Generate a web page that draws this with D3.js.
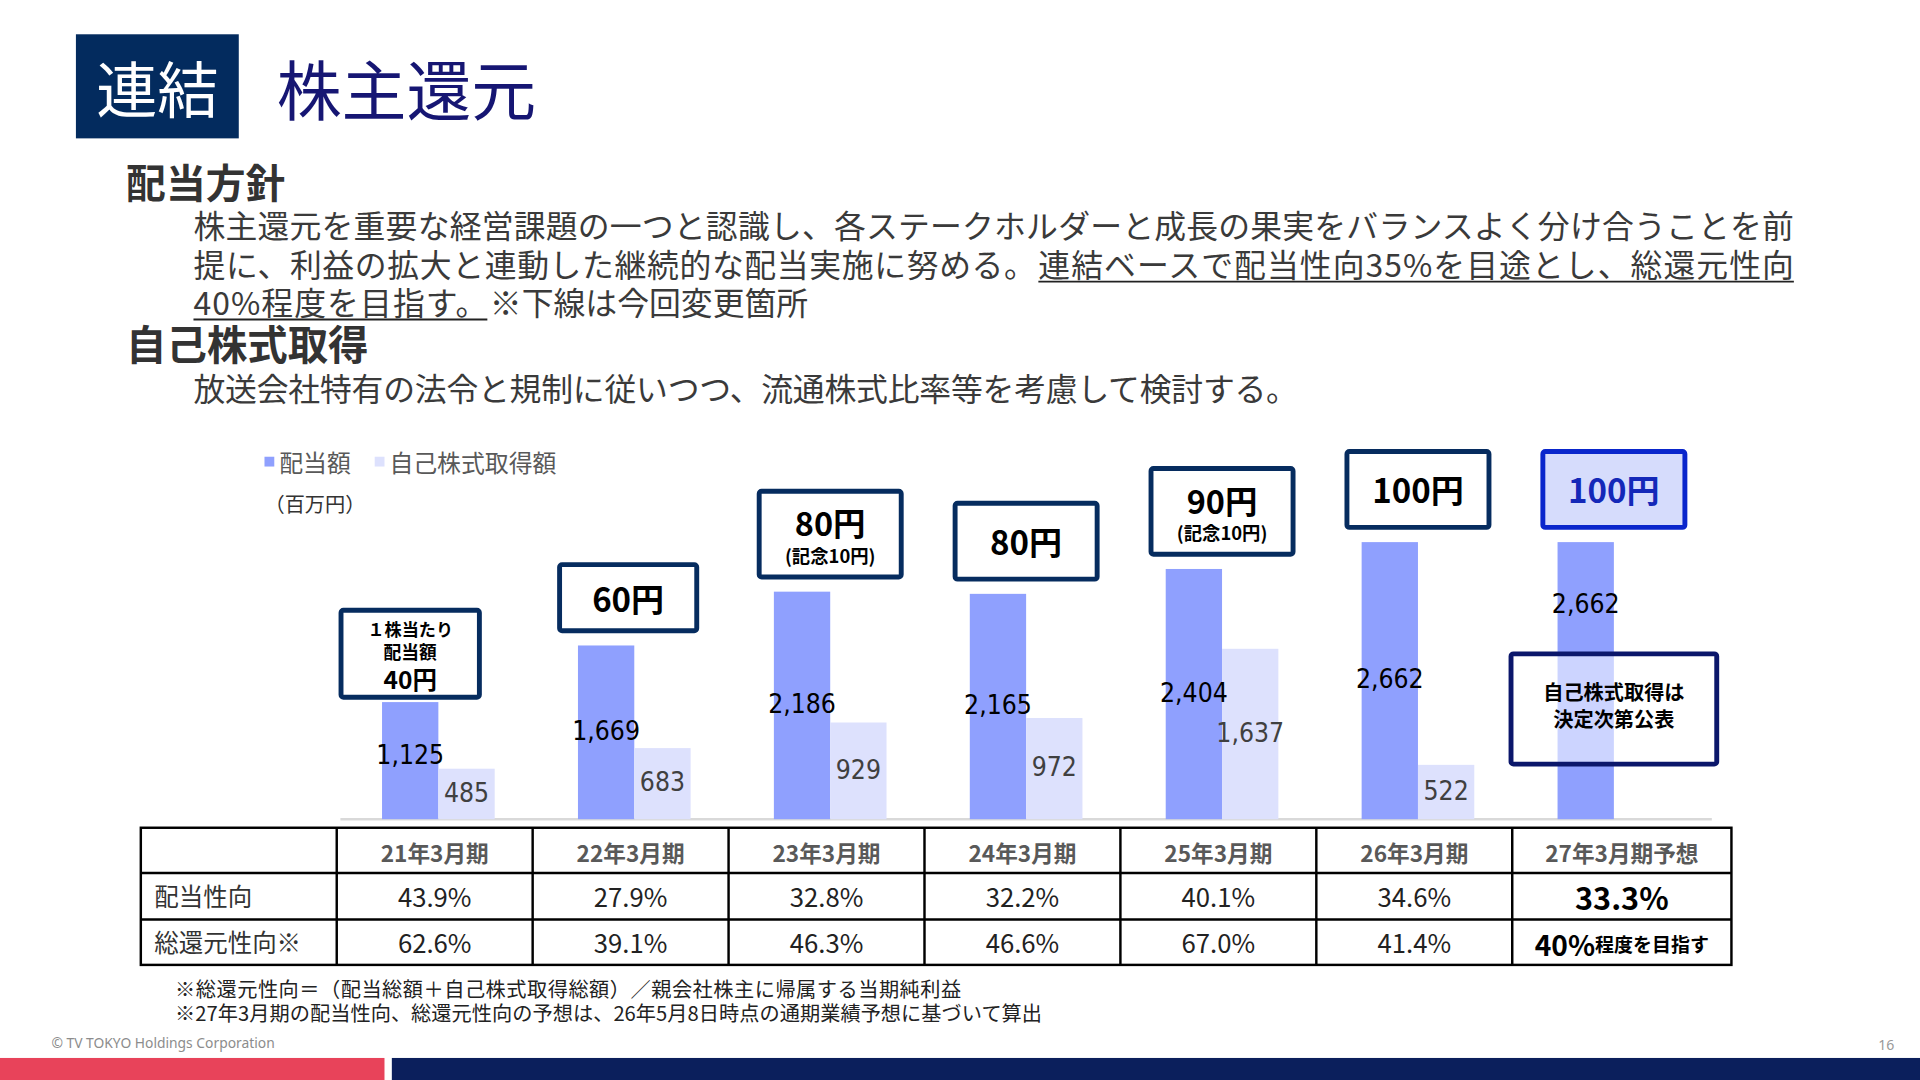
<!DOCTYPE html>
<html lang="ja">
<head>
<meta charset="utf-8">
<title>株主還元</title>
<script src="https://cdn.jsdelivr.net/npm/d3@7"></script>
<style>
  html, body { margin: 0; padding: 0; background: #fff; overflow: hidden; }
  svg { display: block; }
</style>
</head>
<body>
<div id="slide"></div>
<script>
// chart data
const periods = ["21年3月期", "22年3月期", "23年3月期", "24年3月期", "25年3月期", "26年3月期", "27年3月期予想"];
const dividendTotal = [1125, 1669, 2186, 2165, 2404, 2662, 2662];   // 配当額 (百万円)
const buybackTotal = [485, 683, 929, 972, 1637, 522, null];          // 自己株式取得額 (百万円)
const dpsMain = ["40円", "60円", "80円", "80円", "90円", "100円", "100円"];
const dpsNote = ["", "", "(記念10円)", "", "(記念10円)", "", ""];
const payoutRatio = ["43.9%", "27.9%", "32.8%", "32.2%", "40.1%", "34.6%", "33.3%"];
const totalReturnRatio = ["62.6%", "39.1%", "46.3%", "46.6%", "67.0%", "41.4%", "40%"];
const seriesNames = ["配当額", "自己株式取得額"];

const W = 1568, H = 882;
const JP = "'Noto Sans CJK JP', sans-serif";
const NARROW = "'Liberation Sans Narrow', 'DejaVu Sans Condensed', 'Noto Sans CJK JP', sans-serif";
const DIV_COLOR = "#8FA0FE";
const BUY_COLOR = "#DDE1FD";
const NAVY = "#062C5F";

const svg = d3.select("#slide").append("svg")
    .attr("width", 1920)
    .attr("height", 1080)
    .attr("viewBox", `0 0 ${W} ${H}`);

// small helper for text
function addText(parent, x, y, str, size, opts = {}) {
    const t = parent.append("text")
        .attr("x", x)
        .attr("y", y)
        .attr("text-anchor", opts.anchor || "start")
        .attr("dominant-baseline", "central")
        .attr("fill", opts.fill || "#333")
        .style("font-family", opts.family || JP)
        .style("font-size", size + "px")
        .style("font-weight", opts.weight || "normal")
        .text(str);
    if (opts.len) t.attr("textLength", opts.len).attr("lengthAdjust", "spacing");
    return t;
}

// header
svg.append("rect").attr("x", 62).attr("y", 28).attr("width", 133).attr("height", 85).attr("fill", "#032B5E");
addText(svg, 128.5, 71, "連結", 50, { anchor: "middle", fill: "#fff" });
addText(svg, 226, 71, "株主還元", 53, { fill: "#161673" });

// policy text
addText(svg, 103, 147, "配当方針", 32.5, { weight: "bold", fill: "#333" });
const bodyColor = "#3A3A3A";
addText(svg, 158, 183, "株主還元を重要な経営課題の一つと認識し、各ステークホルダーと成長の果実をバランスよく分け合うことを前", 26, { fill: bodyColor, len: 1307 });

addText(svg, 158, 215, "提に、利益の拡大と連動した継続的な配当実施に努める。", 26, { fill: bodyColor, len: 688 });
addText(svg, 848, 215, "連結ベースで配当性向35%を目途とし、総還元性向", 26, { fill: bodyColor, len: 617 });
svg.append("line").attr("x1", 848).attr("x2", 1465).attr("y1", 230).attr("y2", 230)
    .attr("stroke", "#222").attr("stroke-width", 1.6);

addText(svg, 158, 246, "40%程度を目指す。", 26, { fill: bodyColor, len: 240 });
svg.append("line").attr("x1", 158).attr("x2", 398).attr("y1", 261).attr("y2", 261)
    .attr("stroke", "#222").attr("stroke-width", 1.6);
addText(svg, 400, 246, "※下線は今回変更箇所", 26, { fill: bodyColor, len: 260 });

addText(svg, 103, 280, "自己株式取得", 33, { weight: "bold", fill: "#333" });
addText(svg, 158, 316, "放送会社特有の法令と規制に従いつつ、流通株式比率等を考慮して検討する。", 26, { fill: bodyColor, len: 902 });

// legend
const legend = svg.append("g");
[[216, 228, DIV_COLOR], [306, 318, BUY_COLOR]].forEach(([sx, tx, c], i) => {
    legend.append("rect").attr("x", sx).attr("y", 373).attr("width", 8).attr("height", 8).attr("fill", c);
    addText(legend, tx, 377, seriesNames[i], 19.5, { fill: "#595959" });
});
addText(svg, 216, 411, "（百万円）", 16.5, { fill: "#333" });

// scales
const x = d3.scaleBand()
    .domain(periods)
    .range([278, 1398])
    .paddingInner(0.425)
    .paddingOuter(0.2125);

const xSub = d3.scaleBand()
    .domain(["div", "buy"])
    .range([0, x.bandwidth()]);

const y = d3.scaleLinear()
    .domain([0, 3000])
    .range([669, 414]);

const chart = svg.append("g");

// baseline
chart.append("line")
    .attr("x1", x.range()[0]).attr("x2", x.range()[1])
    .attr("y1", y(0)).attr("y2", y(0))
    .attr("stroke", "#D9D9D9").attr("stroke-width", 2);

// dividend bars
chart.selectAll("rect.div")
    .data(periods)
    .enter()
    .append("rect")
    .attr("class", "div")
    .attr("x", d => x(d) + xSub("div"))
    .attr("y", (d, i) => y(dividendTotal[i]))
    .attr("width", xSub.bandwidth())
    .attr("height", (d, i) => y(0) - y(dividendTotal[i]))
    .attr("fill", DIV_COLOR);

// buyback bars
const buyData = periods.map((p, i) => ({ p, v: buybackTotal[i] })).filter(d => d.v !== null);
chart.selectAll("rect.buy")
    .data(buyData)
    .enter()
    .append("rect")
    .attr("class", "buy")
    .attr("x", d => x(d.p) + xSub("buy"))
    .attr("y", d => y(d.v))
    .attr("width", xSub.bandwidth())
    .attr("height", d => y(0) - y(d.v))
    .attr("fill", BUY_COLOR);

// buyback labels
buyData.forEach(d => {
    addText(chart, x(d.p) + xSub("buy") + xSub.bandwidth() / 2, (y(d.v) + y(0)) / 2 - 1,
        d3.format(",")(d.v), 21.5, { anchor: "middle", fill: "#404040", family: NARROW });
});

// per-share dividend boxes
periods.forEach((p, i) => {
    const isForecast = buybackTotal[i] === null;
    const cx = i === 0 ? x(p) + xSub("div") + xSub.bandwidth() / 2 : x(p) + x.bandwidth() / 2 - (i === 1 ? 5 : 0);
    const w = i === 0 ? 113 : (i === 1 ? 112 : 116);
    const h = i === 0 ? 71 : (dpsNote[i] ? 70 : (i === 1 ? 54 : 62));
    const bottom = y(dividendTotal[i]) - (i === 0 ? 4 : 12);
    const top = bottom - h;
    const cy = top + h / 2;

    chart.append("rect")
        .attr("x", cx - w / 2).attr("y", top)
        .attr("width", w).attr("height", h)
        .attr("rx", 2)
        .attr("fill", isForecast ? "#D6DCFC" : "#fff")
        .attr("stroke", isForecast ? "#0A26CC" : NAVY)
        .attr("stroke-width", 4);

    const txtFill = isForecast ? "#1428B8" : "#000";
    if (i === 0) {
        addText(chart, cx, cy - 21, "１株当たり", 14, { anchor: "middle", weight: "bold", fill: "#000" });
        addText(chart, cx, cy - 2, "配当額", 14.5, { anchor: "middle", weight: "bold", fill: "#000" });
        addText(chart, cx, cy + 20, dpsMain[i], 20, { anchor: "middle", weight: "bold", fill: "#000" });
    } else if (dpsNote[i]) {
        addText(chart, cx, cy - 10, dpsMain[i], 26.5, { anchor: "middle", weight: "bold", fill: txtFill });
        addText(chart, cx, cy + 17, dpsNote[i], 15, { anchor: "middle", weight: "bold", fill: txtFill });
    } else {
        addText(chart, cx, cy, dpsMain[i], 27, { anchor: "middle", weight: "bold", fill: txtFill });
    }
});

// forecast buyback note box
const fIdx = buybackTotal.indexOf(null);
const fp = periods[fIdx];
const noteCx = x(fp) + x.bandwidth() / 2;
const noteBottom = y(0) - 45;
const noteTop = noteBottom - 90;
chart.append("rect")
    .attr("x", noteCx - 84).attr("y", noteTop)
    .attr("width", 168).attr("height", 90)
    .attr("rx", 2)
    .attr("fill", "rgba(255,255,255,0.55)")
    .attr("stroke", "#0B176B")
    .attr("stroke-width", 4);
addText(chart, noteCx, noteTop + 31, "自己株式取得は", 16.5, { anchor: "middle", weight: "bold", fill: "#000" });
addText(chart, noteCx, noteTop + 53, "決定次第公表", 16.5, { anchor: "middle", weight: "bold", fill: "#000" });

// dividend labels
periods.forEach((p, i) => {
    const v = dividendTotal[i];
    const ly = buybackTotal[i] === null ? noteTop - 41 : (y(v) + y(0)) / 2 - (i === 0 ? 5 : 1);
    addText(chart, x(p) + xSub("div") + xSub.bandwidth() / 2, ly,
        d3.format(",")(v), 21.5, { anchor: "middle", fill: "#000", family: NARROW });
});

// table
const table = svg.append("g");
const tLeft = 115, tFirst = x.range()[0] - 3, tRight = 1414;
const colX = periods.map((p, i) => tFirst + x.step() * i);
const colEdges = colX.concat([tRight]);
const rowEdges = [676, 713, 751, 788];

table.append("rect")
    .attr("x", tLeft).attr("y", rowEdges[0])
    .attr("width", tRight - tLeft).attr("height", rowEdges[3] - rowEdges[0])
    .attr("fill", "none").attr("stroke", "#000").attr("stroke-width", 2);
rowEdges.slice(1, 3).forEach(ry => {
    table.append("line").attr("x1", tLeft).attr("x2", tRight).attr("y1", ry).attr("y2", ry)
        .attr("stroke", "#000").attr("stroke-width", 2);
});
colX.forEach(cx => {
    table.append("line").attr("x1", cx).attr("x2", cx).attr("y1", rowEdges[0]).attr("y2", rowEdges[3])
        .attr("stroke", "#000").attr("stroke-width", 2);
});

const rowMid = r => (rowEdges[r] + rowEdges[r + 1]) / 2;
periods.forEach((p, i) => {
    const cx = (colEdges[i] + colEdges[i + 1]) / 2;
    addText(table, cx, rowMid(0) + 2, p, 18.5, { anchor: "middle", weight: "bold", fill: "#595959" });
    const last = i === periods.length - 1;
    if (!last) {
        addText(table, cx, rowMid(1) - 1, payoutRatio[i], 21, { anchor: "middle", fill: "#222" });
        addText(table, cx, rowMid(2) - 1, totalReturnRatio[i], 21, { anchor: "middle", fill: "#222" });
    } else {
        addText(table, cx, rowMid(1), payoutRatio[i], 25, { anchor: "middle", weight: "bold", fill: "#000" });
        const t = table.append("text")
            .attr("x", cx).attr("y", rowMid(2) + 1)
            .attr("text-anchor", "middle")
            .attr("dominant-baseline", "central")
            .style("font-family", JP)
            .style("font-weight", "bold")
            .attr("fill", "#000");
        t.append("tspan").style("font-size", "23px").text(totalReturnRatio[i]);
        t.append("tspan").style("font-size", "15.5px").text("程度を目指す");
    }
});
addText(table, 126, rowMid(1) - 1, "配当性向", 20, { fill: "#333" });
addText(table, 126, rowMid(2) - 1, "総還元性向※", 20, { fill: "#333" });

// footnotes
addText(svg, 143, 807, "※総還元性向＝（配当総額＋自己株式取得総額）／親会社株主に帰属する当期純利益", 16.5, { fill: "#222", len: 642 });
addText(svg, 143, 827, "※27年3月期の配当性向、総還元性向の予想は、26年5月8日時点の通期業績予想に基づいて算出", 16.5, { fill: "#222", len: 708 });

// footer
addText(svg, 42, 851, "© TV TOKYO Holdings Corporation", 11.3, { fill: "#8C8C8C", family: "'Noto Sans', sans-serif" });
addText(svg, 1547, 853, "16", 11.5, { anchor: "end", fill: "#9A9A9A", family: "'Noto Sans', sans-serif" });
svg.append("rect").attr("x", 0).attr("y", 864).attr("width", 314).attr("height", 18).attr("fill", "#E8435A");
svg.append("rect").attr("x", 320).attr("y", 864).attr("width", W - 320).attr("height", 18).attr("fill", "#0B1F5C");
</script>
</body>
</html>
